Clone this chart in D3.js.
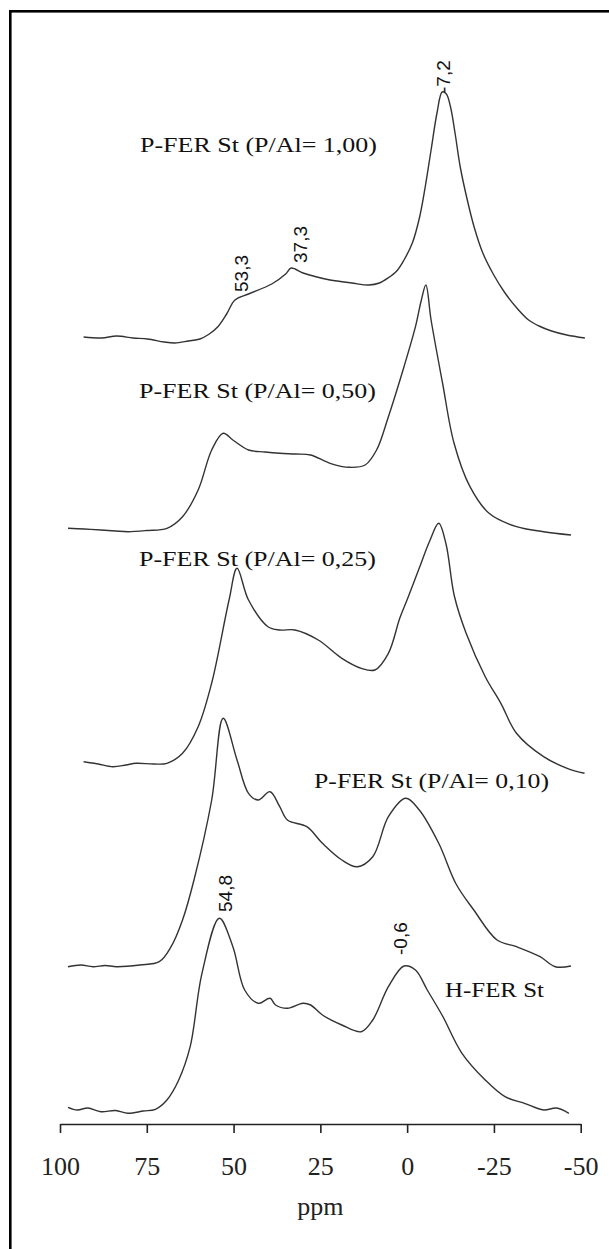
<!DOCTYPE html>
<html>
<head>
<meta charset="utf-8">
<script src="https://cdn.jsdelivr.net/npm/d3@7/dist/d3.min.js"></script>
<style>
  html, body { margin: 0; padding: 0; background: #fff; }
  svg { display: block; }
</style>
</head>
<body>
<svg id="chart" width="609" height="1249"></svg>
<script>
// ---- data ----
const tickValues = [100, 75, 50, 25, 0, -25, -50];
const seriesNames = [
  "P-FER St (P/Al= 1,00)",
  "P-FER St (P/Al= 0,50)",
  "P-FER St (P/Al= 0,25)",
  "P-FER St (P/Al= 0,10)",
  "H-FER St"
];
// baseline offsets (intensity units) for stacking
const offsets = [78.6, 59.4, 36.0, 15.8, 1.4];

// [ppm, relative intensity]
const specP100 = [
  [93.2,0.1],[88,0.0],[83.7,0.2],[79,0.0],[74.8,-0.1],[70,-0.4],[66.9,-0.5],[63,-0.3],[59.7,-0.1],
  [57,0.4],[54.6,1.1],[52,2.4],[49.6,3.8],[45.7,4.4],[39.0,5.4],[35,6.4],[33.4,7.0],[30.0,6.5],
  [26,6.1],[22.2,5.8],[16,5.5],[11.0,5.3],[8,5.5],[5.5,6.0],[3,6.7],[0.9,7.8],[-1.5,9.5],[-3.6,12.1],
  [-5.3,15.3],[-6.9,18.8],[-8.6,22.5],[-10.1,24.6],[-11.3,24.4],[-12.5,23.1],[-13.8,20.5],[-15.3,17.1],
  [-17.2,14.0],[-19.3,11.1],[-21.8,8.5],[-24.8,6.4],[-28,4.6],[-31.6,3.0],[-35,1.8],[-38,1.2],
  [-41.6,0.7],[-46,0.3],[-51.2,0.0]
];
const specP050 = [
  [97.7,0.17],[93,0.1],[88.2,0.0],[84,-0.1],[80.4,-0.17],[75,-0.05],[69.2,0.17],[64.7,1.33],[60.2,4.0],
  [56.3,8.0],[53.0,9.67],[50.2,9.0],[45.7,8.0],[41,7.8],[36.7,7.67],[32,7.6],[27.8,7.5],[22.2,6.67],
  [16.6,6.27],[12.1,6.5],[8.8,8.0],[5.4,11.33],[0.9,16.33],[-2.4,20.33],[-4.1,23.0],[-5.4,24.5],
  [-6.9,21.0],[-10.2,14.7],[-13.5,8.7],[-18.1,4.33],[-23.6,1.67],[-31.5,0.33],[-39.3,-0.17],[-47.2,-0.5]
];
const specP025 = [
  [93.2,0.23],[89,0.0],[84.8,-0.27],[81,-0.1],[78.1,0.07],[73,0.0],[69.2,0.07],[64.7,1.07],[60.2,3.73],
  [56.3,8.1],[51.3,16.4],[49.0,19.57],[45.7,16.4],[40.1,13.73],[36.7,13.4],[32.3,13.4],[25.6,12.4],
  [18.8,10.57],[13.2,9.57],[9.3,9.4],[5.4,11.07],[2.1,14.6],[-0.2,16.6],[-3.5,19.6],[-6.5,22.3],[-9.1,24.07],
  [-11.2,22.0],[-13.6,16.8],[-17.0,13.07],[-22.5,8.73],[-27.0,6.07],[-31.5,3.07],[-39.3,0.73],[-46.1,-0.43],[-51.1,-0.93]
];
const specP010 = [
  [97.7,-0.07],[94,0.1],[90.5,-0.07],[87,0.05],[83.7,-0.07],[77,0.1],[71.4,0.43],[68.0,1.93],[64.7,4.6],
  [61.4,8.6],[56.3,16.6],[53.0,24.77],[49.0,20.6],[45.7,17.27],[42.9,16.6],[39.5,17.43],
  [36.7,15.93],[34.5,14.6],[28.9,13.93],[24.4,12.27],[18.8,10.6],[14.4,9.93],[9.9,10.93],[5.4,14.93],
  [0.4,16.77],[-3.5,15.6],[-9.1,12.27],[-14.1,8.2],[-19.2,5.6],[-25.9,2.6],[-31.5,1.93],[-38.3,0.93],
  [-42.7,-0.07],[-47.2,0.0]
];
const specHFER = [
  [97.7,0.27],[95,0.0],[92,0.2],[88.2,-0.17],[84,-0.05],[80.4,-0.33],[76,-0.1],[72.5,0.07],[69.2,1.0],
  [65.8,3.0],[62.5,6.33],[59.1,13.67],[54.1,19.17],[50.2,16.33],[46.8,12.0],[42.9,10.67],
  [39.5,11.17],[37.9,10.5],[34.5,10.17],[30.0,10.67],[27.8,10.5],[24.4,9.5],[18.8,8.5],[13.2,7.83],
  [9.9,9.0],[5.4,12.33],[0.9,14.4],[-2.4,14.0],[-5.8,12.0],[-10.2,9.4],[-15.8,5.67],[-22.5,3.0],
  [-28.2,1.33],[-33.8,0.67],[-39.3,0.0],[-43,0.2],[-46.6,-0.33]
];
const spectra = [specP100, specP050, specP025, specP010, specHFER];

// peak annotations: text, ppm position, absolute intensity (bottom of text)
const peakText = ["-7,2", "37,3", "53,3", "54,8", "-0,6"];
const peakPpm  = [-12.3, 28.9, 45.8, 50.4, -0.1];
const peakInt  = [103.1, 86.1, 83.2, 21.2, 16.9];

// ---- chart ----
const svg = d3.select("#chart");
const x = d3.scaleLinear().domain([100, -50]).range([60, 580.7]);
const y = d3.scaleLinear().domain([0, 100]).range([1124, 124]);

// frame
svg.append("rect")
  .attr("x", 10.3).attr("y", 11.3)
  .attr("width", 640).attr("height", 1280)
  .attr("fill", "none").attr("stroke", "#000").attr("stroke-width", 2.6);

// axis
const axis = d3.axisBottom(x)
  .tickValues(tickValues)
  .tickFormat(d => String(d))
  .tickSize(9)
  .tickSizeOuter(0);
const gAxis = svg.append("g").attr("transform", "translate(0,1124)").call(axis);
gAxis.select(".domain").attr("stroke", "#222").attr("stroke-width", 1.6);
gAxis.selectAll(".tick line").attr("stroke", "#222").attr("stroke-width", 1.6);
gAxis.selectAll(".tick text")
  .attr("y", 51).attr("dy", 0)
  .attr("fill", "#222")
  .style("font-family", "'Liberation Serif', serif")
  .style("font-size", "26px");

svg.append("text")
  .attr("x", x(25)).attr("y", 1215)
  .attr("text-anchor", "middle")
  .attr("fill", "#222")
  .style("font-family", "'Liberation Serif', serif")
  .style("font-size", "26px")
  .text("ppm");

// spectra
const line = d3.line()
  .x(d => x(d[0]))
  .y(d => y(d[1]))
  .curve(d3.curveCatmullRom.alpha(0.5));

spectra.forEach((s, i) => {
  const pts = s.map(d => [d[0], d[1] + offsets[i]]);
  svg.append("path")
    .attr("d", line(pts))
    .attr("fill", "none")
    .attr("stroke", "#333")
    .attr("stroke-width", 1.4)
    .attr("stroke-linejoin", "round");
});

// series labels
const labelPos = [
  {x: 140, y: 152, w: 237},
  {x: 139, y: 398, w: 237},
  {x: 139, y: 566, w: 237},
  {x: 314, y: 788, w: 235},
  {x: 445, y: 997, w: 99}
];
seriesNames.forEach((name, i) => {
  svg.append("text")
    .attr("x", labelPos[i].x).attr("y", labelPos[i].y)
    .attr("textLength", labelPos[i].w)
    .attr("lengthAdjust", "spacingAndGlyphs")
    .attr("fill", "#111")
    .style("font-family", "'Liberation Serif', serif")
    .style("font-size", "21px")
    .text(name);
});

// peak labels (rotated)
peakText.forEach((t, i) => {
  svg.append("text")
    .attr("transform", `translate(${x(peakPpm[i])},${y(peakInt[i])}) rotate(-90)`)
    .attr("fill", "#111")
    .style("font-family", "'Liberation Sans', Arial, sans-serif")
    .style("font-size", "19px")
    .text(t);
});
</script>
</body>
</html>
